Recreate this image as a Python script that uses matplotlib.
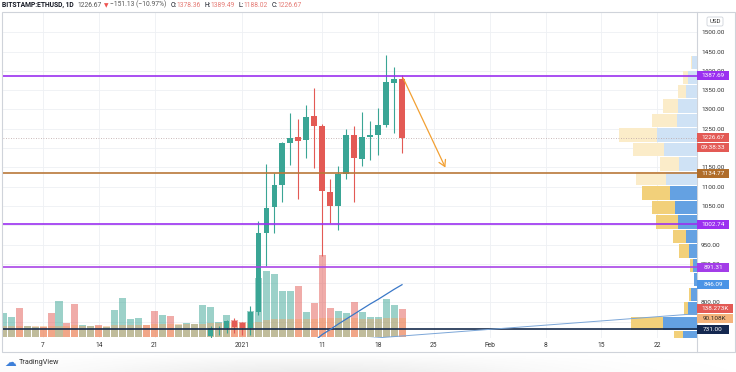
import matplotlib
matplotlib.use("Agg")
import matplotlib.pyplot as plt
import matplotlib.dates as mdates
from matplotlib.patches import Rectangle, FancyArrowPatch, FancyBboxPatch
from matplotlib.lines import Line2D
from matplotlib.transforms import IdentityTransform
import numpy as np
import pandas as pd

plt.rcParams['font.family'] = ['Roboto', 'DejaVu Sans']

# ---------------- data ----------------
candle_dates = pd.date_range('2020-12-28', '2021-01-21', freq='D')
opens  = [712, 731, 733, 752, 746, 734, 775, 979, 1047, 1104, 1212, 1228, 1220, 1282, 1258,
          1085, 1049, 1132, 1233, 1171, 1228, 1233, 1259, 1368, 1378.36]
highs  = [740, 740, 755, 760, 750, 790, 1010, 1160, 1135, 1215, 1290, 1275, 1311, 1355, 1262,
          1120, 1153, 1249, 1256, 1293, 1270, 1303, 1440, 1409, 1389.49]
lows   = [690, 715, 722, 720, 715, 716, 768, 895, 979, 1060, 1155, 1067, 1174, 1148, 921,
          1005, 987, 1120, 1060, 1153, 1168, 1181, 1254, 1238, 1188.02]
closes = [733, 732, 752, 737, 734, 775, 979, 1044, 1104, 1212, 1225, 1218, 1280, 1256, 1088,
          1049, 1132, 1233, 1174, 1228, 1233, 1259, 1370, 1377.80, 1226.67]

vol_dates = pd.date_range('2020-12-02', '2021-01-21', freq='D')
volume_k = [118, 98, 141, 52, 48, 45, 118, 175, 68, 161, 57, 52, 55, 47, 131, 189, 86, 93,
            57, 127, 106, 101, 57, 65, 62, 156, 144, 73, 106, 82,
            73, 127, 290, 324, 309, 225, 225, 249, 121, 165, 403, 141, 126, 116, 170, 121,
            96, 96, 185, 156, 138.273]
vol_dir = ['u', 'u', 'd', 'u', 'u', 'd', 'd', 'u', 'd', 'd', 'u', 'u', 'd', 'u', 'u', 'u',
           'u', 'u', 'd', 'd', 'u', 'd', 'u', 'u', 'u', 'u', 'u', 'u', 'u', 'd',
           'd', 'u', 'u', 'u', 'u', 'u', 'u', 'd', 'u', 'd', 'd', 'd', 'u', 'u', 'd', 'u',
           'u', 'u', 'u', 'u', 'd']
vol_ma_k = [50, 50, 51, 51, 50, 50, 51, 53, 53, 55, 54, 54, 54, 53,
            55, 58, 58, 59, 58, 60, 60, 61, 60, 60, 60, 63, 65, 66, 66, 66,
            66, 68, 74, 80, 84, 85, 86, 87, 86, 87, 90, 90, 90, 89, 89, 88, 88, 88, 89, 90, 90.108]

ma_dates = pd.date_range('2021-01-10', '2021-01-21', freq='D')
ma_values = [700, 717, 730, 744, 757, 770, 783, 796, 808, 821, 834, 846.09]

trend_dates = pd.to_datetime(['2021-01-10 00:00', '2021-02-27 00:00'])
trend_values = [696, 771]

arrow_dates = pd.to_datetime(['2021-01-21 00:00', '2021-01-26 14:00'])
arrow_values = [1387.69, 1143]

levels = [1387.69, 1134.77, 1002.74, 891.31, 731.00]
level_colors = ['#9b30f0', '#b9783a', '#9b30f0', '#a945e6', '#172b4d']

# volume profile (visible range), rows of 37.5 USD
prof_low = [1402.5, 1365, 1327.5, 1290, 1252.5, 1215, 1177.5, 1140, 1102.5, 1065,
            1027.5, 990, 952.5, 915, 877.5, 840, 802.5, 765, 727.5, 690]
prof_up = [50, 90, 110, 190, 200, 400, 330, 180, 310, 270, 220, 190, 110, 80, 40, 30, 60, 90, 340, 140]
prof_down = [10, 50, 80, 150, 250, 380, 310, 190, 300, 280, 230, 220, 130, 100, 30, 0, 20, 40, 320, 90]
prof_value_area = [False] * 9 + [True] * 11

price_ticks = [750, 800, 850, 900, 950, 1000, 1050, 1100, 1150, 1200, 1250, 1300, 1350, 1400, 1450, 1500]
hidden_ticks = [750, 850, 1000, 1200]   # covered by the price labels in the reference
x_tick_dates = pd.to_datetime(['2020-12-07', '2020-12-14', '2020-12-21', '2021-01-01', '2021-01-11',
                               '2021-01-18', '2021-01-25', '2021-02-01', '2021-02-08', '2021-02-15',
                               '2021-02-22'])
x_tick_labels = ['7', '14', '21', '2021', '11', '18', '25', 'Feb', '8', '15', '22']

# ---------------- figure ----------------
W, H = 736, 372
fig = plt.figure(figsize=(W / 100, H / 100), dpi=100)
fig.patch.set_facecolor('white')

L, R, T, B = 3, 697, 12, 338
rect = [L / W, (H - B) / H, (R - L) / W, (B - T) / H]

ax_bg = fig.add_axes(rect, zorder=0)
ax_vol = fig.add_axes(rect, zorder=1, sharex=ax_bg)
ax_prof = fig.add_axes(rect, zorder=2, sharey=ax_bg)
ax = fig.add_axes(rect, zorder=3, sharex=ax_bg, sharey=ax_bg)

for a in (ax_bg, ax_vol, ax_prof, ax):
    for s in a.spines.values():
        s.set_visible(False)
for a in (ax_vol, ax_prof, ax):
    a.patch.set_visible(False)

UP, DOWN = '#3aa595', '#e35a55'

xd = mdates.date2num(candle_dates)
ax.set_xlim(mdates.date2num(pd.Timestamp('2020-12-01 23:30')),
            mdates.date2num(pd.Timestamp('2021-02-26 23:30')))
ax.set_ylim(708.0, 1552.6)

# grid (background)
ax.set_xticks(mdates.date2num(x_tick_dates))
ax.set_xticklabels(x_tick_labels)
ax.set_yticks(price_ticks)
ax.set_yticklabels(['' if v in hidden_ticks else f'{v:.2f}' for v in price_ticks])
ax_bg.grid(True, color='#eef0f4', lw=0.6)
ax_bg.tick_params(length=0, labelbottom=False, labelleft=False)

# volume
vx = mdates.date2num(vol_dates)
vcol = [UP if d == 'u' else DOWN for d in vol_dir]
ax_vol.bar(vx, volume_k, width=0.88, color=vcol, alpha=0.5, linewidth=0)
ax_vol.bar(vx, vol_ma_k, width=0.88, color='#f3a05c', alpha=0.42, linewidth=0)
ax_vol.set_ylim(-7.4, 1603)
ax_vol.axis('off')

# volume profile
prof_mid = [p + 37.5 / 2 for p in prof_low]
c_up = ['#64a1e2' if v else '#cfe2f5' for v in prof_value_area]
c_dn = ['#f2d07a' if v else '#fbecc9' for v in prof_value_area]
ax_prof.barh(prof_mid, prof_up, height=37.5 * 0.92, left=0, color=c_up, linewidth=0)
ax_prof.barh(prof_mid, prof_down, height=37.5 * 0.92, left=prof_up, color=c_dn, linewidth=0)
ax_prof.set_xlim(6940, 0)
ax_prof.tick_params(length=0, labelbottom=False, labelleft=False, labelright=False)
ax_prof.set_xticks([])

# candles
ccol = [UP if c >= o else DOWN for o, c in zip(opens, closes)]
ax.vlines(xd, lows, highs, colors=ccol, lw=0.8, zorder=2)
bottoms = [min(o, c) for o, c in zip(opens, closes)]
heights = [max(abs(c - o), 1.5) for o, c in zip(opens, closes)]
ax.bar(xd, heights, bottom=bottoms, width=0.72, color=ccol, linewidth=0, zorder=3)

# levels
for lv, lc in zip(levels, level_colors):
    ax.axhline(lv, color=lc, lw=1.2, zorder=4)
ax.axhline(closes[-1], color='#b9a3a3', lw=0.6, ls=(0, (1, 2)), zorder=1)

# moving average and trend line
ax.plot(mdates.date2num(ma_dates), ma_values, color='#3a78c8', lw=0.9, zorder=4)
ax.plot(mdates.date2num(trend_dates), trend_values, color='#7ba6d8', lw=0.7, zorder=4)

# arrow
arr = FancyArrowPatch((mdates.date2num(arrow_dates[0]), arrow_values[0]),
                      (mdates.date2num(arrow_dates[1]), arrow_values[1]),
                      arrowstyle='->,head_length=0.55,head_width=0.32', mutation_scale=8,
                      color='#f2a033', lw=0.9, zorder=5)
ax.add_patch(arr)

# axis ticks
ax.yaxis.tick_right()
ax.tick_params(axis='y', length=0, pad=2.9, labelsize=4.6, labelcolor='#333333')
ax.tick_params(axis='x', length=0, pad=3.2, labelsize=4.8, labelcolor='#333333')

# ---------------- frame ----------------
fig.add_artist(Rectangle((2, H - 352), 733, 340, transform=IdentityTransform(), fill=False,
                         ec='#cfd3da', lw=0.8))
fig.add_artist(Line2D([697, 697], [H - 352, H - 12], transform=IdentityTransform(),
                      color='#cfd3da', lw=0.8))

# USD box
fig.add_artist(FancyBboxPatch((707, H - 26), 16, 9, boxstyle='round,pad=0,rounding_size=1.5',
                              transform=IdentityTransform(), fc='white', ec='#cfd3da', lw=0.6))
fig.text(715 / W, (H - 21.5) / H, 'USD', ha='center', va='center', fontsize=4.4, color='#333333')

# ---------------- price labels ----------------
def label(axis, yval, text, bg, fg='white', dy=0, width=32):
    y = axis.transData.transform((0, yval))[1] - dy
    fig.add_artist(Rectangle((697, y - 4.6), width, 9.2, transform=IdentityTransform(),
                             fc=bg, ec='none', zorder=5))
    fig.text(697 + width / 2, y, text, transform=IdentityTransform(), ha='center',
             va='center', fontsize=4.6, color=fg, zorder=6)

label(ax, levels[0], f'{levels[0]:.2f}', '#9b30f0')
label(ax, closes[-1], f'{closes[-1]:.2f}', '#e35a55')
label(ax, closes[-1], '09:38:33', '#e35a55', dy=10)
label(ax, levels[1], f'{levels[1]:.2f}', '#b06d2a')
label(ax, levels[2], f'{levels[2]:.2f}', '#9b30f0')
label(ax, levels[3], f'{levels[3]:.2f}', '#a33de8')
label(ax, ma_values[-1], f'{ma_values[-1]:.2f}', '#4a94e6')
label(ax_vol, volume_k[-1], f'{volume_k[-1]:.3f}K', '#e35a55', width=36)
label(ax_vol, vol_ma_k[-1], f'{vol_ma_k[-1]:.3f}K', '#f5b47c', fg='#2a2a2a', width=36)
label(ax, levels[4], f'{levels[4]:.2f}', '#142850')

# ---------------- header ----------------
o, h, l, c = opens[-1], highs[-1], lows[-1], closes[-1]
chg = c - closes[-2]
pct = chg / closes[-2] * 100
val_col = '#e57a74'
dark = '#131722'
parts = [
    ('BITSTAMP:ETHUSD, 1D', dark, 'bold', 0),
    (f'{c:.2f}', '#555555', 'normal', 2.6),
    ('\u25bc', '#ef5350', 'normal', 1.6),
    (f'\u2212{abs(chg):.2f} (\u2212{abs(pct):.2f}%)', '#555555', 'normal', 1.6),
    ('O:', dark, 'normal', 2.6), (f'{o:.2f}', val_col, 'normal', 0),
    ('H:', dark, 'normal', 2.6), (f'{h:.2f}', val_col, 'normal', 0),
    ('L:', dark, 'normal', 2.6), (f'{l:.2f}', val_col, 'normal', 0),
    ('C:', dark, 'normal', 2.6), (f'{c:.2f}', val_col, 'normal', 0),
]
prev = None
for txt, col, wt, gap in parts:
    if prev is None:
        prev = fig.text(2 / W, (H - 8.7) / H, txt, color=col, fontweight=wt, fontsize=4.9,
                        ha='left', va='bottom')
    else:
        prev = ax.annotate(txt, xy=(1, 0), xycoords=prev, xytext=(gap, 0),
                           textcoords='offset points', color=col, fontweight=wt,
                           fontsize=4.9 if txt != '\u25bc' else 4.2, ha='left', va='bottom',
                           annotation_clip=False)

# ---------------- footer ----------------
ax_sh = fig.add_axes([0, 0, 1, 18 / H], zorder=-1)
gx = np.linspace(0, 1, 300)
gy = np.linspace(0, 1, 40)
GX, GY = np.meshgrid(gx, gy)
shade = np.exp(-((GX - 0.42) / 0.3) ** 2) * (1 - GY) ** 0.8
img = np.ones((40, 300, 4))
img[..., :3] = 0.55
img[..., 3] = 0.16 * shade
ax_sh.imshow(img, aspect='auto', origin='lower', extent=[0, 1, 0, 1])
ax_sh.axis('off')

fig.text(4 / W, (H - 363) / H, '\u2601', fontsize=8.5, color='#3d7fd9', ha='left', va='center',
         family='DejaVu Sans')
fig.text(19 / W, (H - 363) / H, 'TradingView', fontsize=5.2, color='#333333', ha='left',
         va='center')

fig.savefig('out.png', dpi=100, facecolor='white')
